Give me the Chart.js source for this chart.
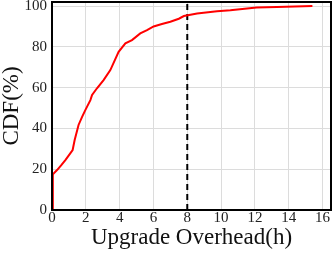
<!DOCTYPE html>
<html>
<head>
<meta charset="utf-8">
<script src="https://cdn.jsdelivr.net/npm/chart.js@4"></script>
<style>
html,body{margin:0;padding:0;background:#fff;}
#wrap{width:332px;height:253px;}
</style>
</head>
<body>
<div id="wrap"><canvas id="c" width="332" height="253"></canvas></div>
<script>
// Data
const overheadHours = [0.03, 0.05, 0.05, 0.3, 0.55, 0.79, 1.08, 1.22, 1.34, 1.57, 1.78, 1.97, 2.27, 2.37, 2.66, 3.05, 3.45, 3.94, 4.34, 4.73, 5.22, 5.62, 6.01, 6.5, 7.0, 7.5, 7.8, 8.58, 9.76, 10.55, 12.1, 13.3, 15.4];
const cdfPercent   = [0, 0, 17.5, 19.6, 22, 24.5, 27.8, 29.4, 34.3, 41.7, 45.7, 49, 53.9, 56.4, 59.7, 63.7, 68.6, 77.6, 81.7, 83.3, 86.6, 88.2, 90, 91.2, 92.3, 93.8, 95.1, 96.4, 97.5, 98, 99.3, 99.6, 100];
const thresholdHours = [8, 8];
const thresholdSpan  = [0, 102];
const xTicks = [0, 2, 4, 6, 8, 10, 12, 14, 16];
const yTicks = [0, 20, 40, 60, 80, 100];
const xTitle = 'Upgrade Overhead(h)';
const yTitle = 'CDF(%)';

const curve = overheadHours.map((x, i) => ({x: x, y: cdfPercent[i]}));
const threshold = thresholdHours.map((x, i) => ({x: x, y: thresholdSpan[i]}));

const serif = '"Liberation Serif", "Times New Roman", serif';

const framePlugin = {
  id: 'frame',
  afterDatasetsDraw(chart) {
    const a = chart.chartArea, ctx = chart.ctx;
    ctx.save();
    ctx.strokeStyle = '#000';
    ctx.lineWidth = 2;
    ctx.strokeRect(a.left, a.top, a.right - a.left, a.bottom - a.top);
    ctx.restore();
  }
};

new Chart(document.getElementById('c'), {
  type: 'scatter',
  data: {
    datasets: [
      {data: curve, showLine: true, borderColor: '#ff0000', borderWidth: 2, pointRadius: 0, tension: 0, fill: false},
      {data: threshold, showLine: true, borderColor: '#000', borderWidth: 2, borderDash: [6, 4], pointRadius: 0, fill: false}
    ]
  },
  plugins: [framePlugin],
  options: {
    responsive: false,
    devicePixelRatio: 1,
    animation: false,
    layout: {padding: {left: 0, right: 1, top: 2, bottom: 4}},
    plugins: {legend: {display: false}, tooltip: {enabled: false}},
    scales: {
      x: {
        type: 'linear', min: 0, max: 16.5,
        afterBuildTicks: s => { s.ticks = xTicks.map(v => ({value: v})); },
        afterFit: s => { s.height = 39; s.paddingLeft = 0; s.paddingRight = 0; },
        grid: {color: '#dcdcdc', lineWidth: 1, drawTicks: false},
        border: {display: false},
        ticks: {font: {family: serif, size: 15, lineHeight: 1}, color: '#222', padding: 1, maxRotation: 0},
        title: {display: true, text: xTitle, font: {family: serif, size: 23, lineHeight: 1}, color: '#111', padding: {top: 0, bottom: 0}}
      },
      y: {
        type: 'linear', min: 0, max: 102,
        afterBuildTicks: s => { s.ticks = yTicks.map(v => ({value: v})); },
        afterFit: s => { s.width = 52; s.paddingTop = 0; s.paddingBottom = 0; },
        grid: {color: '#dcdcdc', lineWidth: 1, drawTicks: false},
        border: {display: false},
        ticks: {font: {family: serif, size: 15, lineHeight: 1}, color: '#222', padding: 5},
        title: {display: true, text: yTitle, font: {family: serif, size: 23, lineHeight: 1}, color: '#111', padding: {top: 0, bottom: 2}}
      }
    }
  }
});
</script>
</body>
</html>
